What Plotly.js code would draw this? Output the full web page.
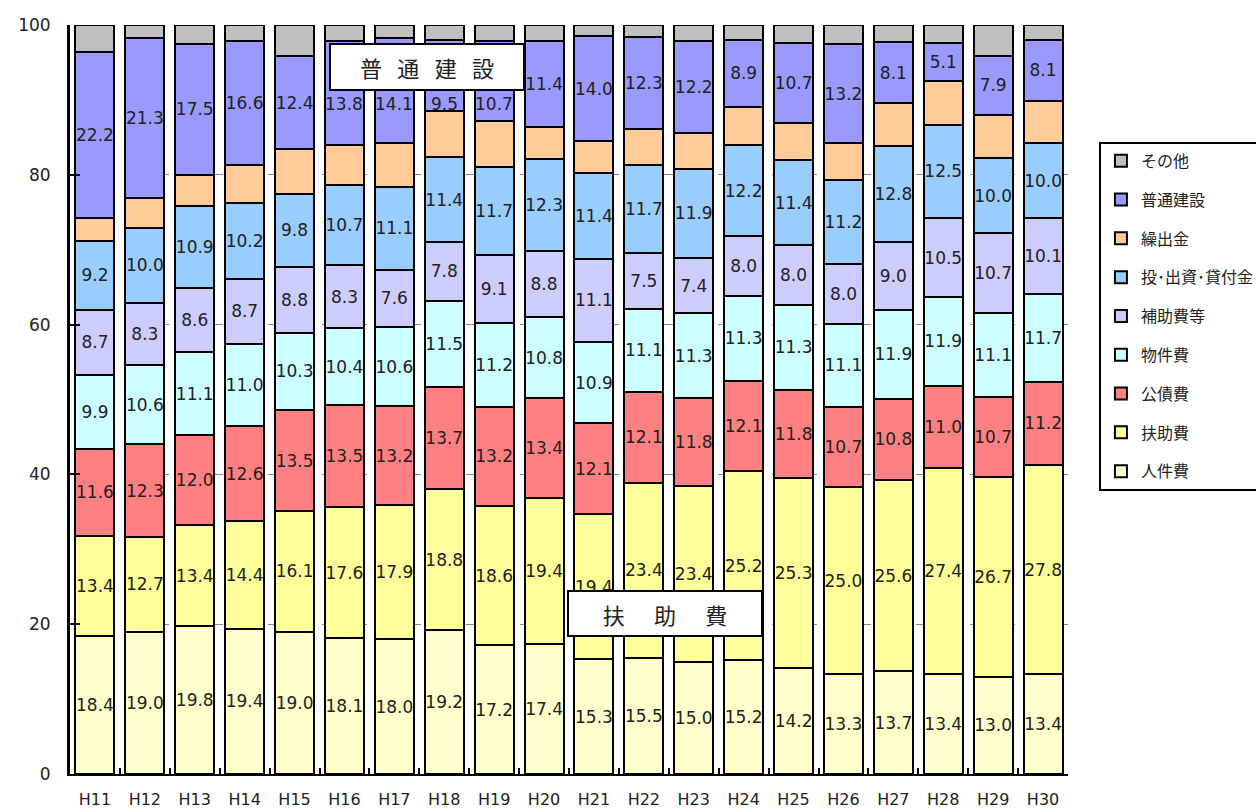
<!DOCTYPE html>
<html>
<head>
<meta charset="utf-8">
<script src="https://cdn.plot.ly/plotly-3.0.1.min.js"></script>
<style>
  html, body { margin: 0; padding: 0; background: #fff; }
  #chart { width: 1256px; height: 808px; }
</style>
</head>
<body>
<div id="chart"></div>
<script>
// 年度
const years = ['H11', 'H12', 'H13', 'H14', 'H15', 'H16', 'H17', 'H18', 'H19', 'H20',
               'H21', 'H22', 'H23', 'H24', 'H25', 'H26', 'H27', 'H28', 'H29', 'H30'];

// 構成比 (%) 下から順に
const jinkenhi   = [18.4, 19.0, 19.8, 19.4, 19.0, 18.1, 18.0, 19.2, 17.2, 17.4, 15.3, 15.5, 15.0, 15.2, 14.2, 13.3, 13.7, 13.4, 13.0, 13.4];
const fujohi     = [13.4, 12.7, 13.4, 14.4, 16.1, 17.6, 17.9, 18.8, 18.6, 19.4, 19.4, 23.4, 23.4, 25.2, 25.3, 25.0, 25.6, 27.4, 26.7, 27.8];
const kosaihi    = [11.6, 12.3, 12.0, 12.6, 13.5, 13.5, 13.2, 13.7, 13.2, 13.4, 12.1, 12.1, 11.8, 12.1, 11.8, 10.7, 10.8, 11.0, 10.7, 11.2];
const bukkenhi   = [9.9, 10.6, 11.1, 11.0, 10.3, 10.4, 10.6, 11.5, 11.2, 10.8, 10.9, 11.1, 11.3, 11.3, 11.3, 11.1, 11.9, 11.9, 11.1, 11.7];
const hojohi     = [8.7, 8.3, 8.6, 8.7, 8.8, 8.3, 7.6, 7.8, 9.1, 8.8, 11.1, 7.5, 7.4, 8.0, 8.0, 8.0, 9.0, 10.5, 10.7, 10.1];
const toshikin   = [9.2, 10.0, 10.9, 10.2, 9.8, 10.7, 11.1, 11.4, 11.7, 12.3, 11.4, 11.7, 11.9, 12.2, 11.4, 11.2, 12.8, 12.5, 10.0, 10.0];
const kuridashi  = [3.0, 4.0, 4.2, 5.0, 5.9, 5.4, 5.8, 6.1, 6.2, 4.3, 4.3, 4.8, 4.8, 5.1, 4.9, 4.9, 5.8, 5.8, 5.8, 5.7];
const futsukensetsu = [22.2, 21.3, 17.5, 16.6, 12.4, 13.8, 14.1, 9.5, 10.7, 11.4, 14.0, 12.3, 12.2, 8.9, 10.7, 13.2, 8.1, 5.1, 7.9, 8.1];
const sonota     = [3.6, 1.8, 2.5, 2.1, 4.2, 2.2, 1.7, 2.0, 2.1, 2.2, 1.5, 1.6, 2.2, 2.0, 2.4, 2.6, 2.3, 2.4, 4.1, 2.0];

const yTicks = [0, 20, 40, 60, 80, 100];

// 「普通建設」の枠に隠れるため枠の下へ移したラベル (H16〜H19)
const movedLabels = ['H16', 'H17', 'H18', 'H19'];
const movedLabelY = 89.4;

const FONT = '"Century Gothic", "DejaVu Sans", "Noto Sans CJK JP", sans-serif';
const JPFONT = '"Noto Sans CJK JP", sans-serif';

// 系列定義 (積み上げ順)
const series = [
  { name: '人件費', values: jinkenhi, color: '#FFFFCC', label: true },
  { name: '扶助費', values: fujohi, color: '#FFFF99', label: true },
  { name: '公債費', values: kosaihi, color: '#FF8080', label: true },
  { name: '物件費', values: bukkenhi, color: '#CCFFFF', label: true },
  { name: '補助費等', values: hojohi, color: '#CCCCFF', label: true },
  { name: '投･出資･貸付金', values: toshikin, color: '#99CCFF', label: true },
  { name: '繰出金', values: kuridashi, color: '#FFCC99', label: false },
  { name: '普通建設', values: futsukensetsu, color: '#9999FF', label: true, moved: true },
  { name: 'その他', values: sonota, color: '#C0C0C0', label: false }
];

const traces = series.map((s, i) => {
  let pos = s.label ? 'inside' : 'none';
  if (s.moved) pos = years.map(y => movedLabels.includes(y) ? 'none' : 'inside');
  return {
    type: 'bar',
    name: s.name,
    x: years,
    y: s.values,
    legendgroup: 'g' + i,
    legendrank: series.length - i,
    marker: { color: s.color, line: { color: '#000', width: 2 } },
    texttemplate: s.label ? '%{y:.1f}' : '',
    textposition: pos,
    insidetextanchor: 'middle',
    textangle: 0,
    constraintext: 'none',
    textfont: { family: FONT, size: 17, color: '#222' },
    hoverinfo: 'x+y+name'
  };
});

// 移したラベル (枠のすぐ下)
const annotations = [];
years.forEach((yr, i) => {
  if (!movedLabels.includes(yr)) return;
  annotations.push({
    xref: 'x', yref: 'y', x: yr, y: movedLabelY,
    text: futsukensetsu[i].toFixed(1), showarrow: false,
    font: { family: FONT, size: 17, color: '#222' }
  });
});

annotations.push(
  {
    xref: 'paper', yref: 'y', x: 0.358, y: 94.4,
    text: '普\u2002\u2009通\u2002\u2009建\u2002\u2009設', showarrow: false,
    font: { family: JPFONT, size: 22, color: '#222' },
    bgcolor: '#fff', bordercolor: '#000', borderwidth: 2,
    width: 190, height: 42
  },
  {
    xref: 'paper', yref: 'y', x: 0.596, y: 21.4,
    text: '扶\u3000\u2004助\u3000\u2004費', showarrow: false,
    font: { family: JPFONT, size: 22, color: '#222' },
    bgcolor: '#fff', bordercolor: '#000', borderwidth: 2,
    width: 190, height: 41
  }
);

const layout = {
  width: 1256,
  height: 808,
  barmode: 'stack',
  bargap: 0.22,
  paper_bgcolor: '#fff',
  plot_bgcolor: '#fff',
  margin: { l: 70, r: 188, t: 25, b: 34, autoexpand: false },
  font: { family: FONT, size: 16, color: '#222' },
  uniformtext: { mode: 'show', minsize: 17 },
  showlegend: true,
  legend: {
    x: 1.031, y: 0.844, xanchor: 'left', yanchor: 'top',
    traceorder: 'grouped',
    tracegroupgap: 15,
    bordercolor: '#000', borderwidth: 2,
    bgcolor: '#fff',
    font: { family: JPFONT, size: 16, color: '#222' },
    itemwidth: 30
  },
  xaxis: {
    type: 'category',
    showline: true, linecolor: '#000', linewidth: 2,
    ticks: 'inside', tickson: 'boundaries', ticklen: 6, tickcolor: '#000', tickwidth: 2,
    showgrid: false,
    tickfont: { family: FONT, size: 16, color: '#222' },
    ticklabelstandoff: 10
  },
  yaxis: {
    range: [0, 100],
    tickvals: yTicks,
    showline: true, linecolor: '#000', linewidth: 3,
    ticks: 'inside', ticklen: 10, tickcolor: '#000', tickwidth: 2,
    showgrid: true, gridcolor: '#888', griddash: 'dash', gridwidth: 1,
    zeroline: false,
    tickfont: { family: FONT, size: 17, color: '#222' },
    ticklabelstandoff: 13
  },
  annotations: annotations
};

Plotly.newPlot('chart', traces, layout, { displayModeBar: false, responsive: false });
</script>
</body>
</html>
